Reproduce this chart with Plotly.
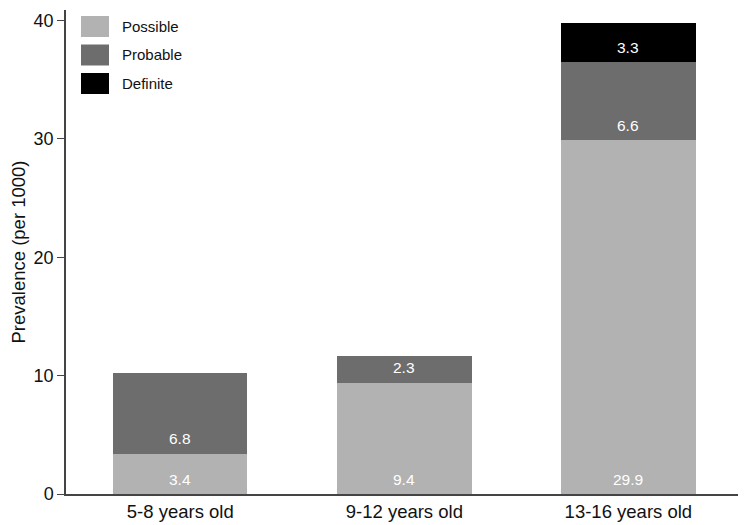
import plotly.graph_objects as go

# Data
age_groups = ["5-8 years old", "9-12 years old", "13-16 years old"]
series_names = ["Possible", "Probable", "Definite"]
possible = [3.4, 9.4, 29.9]
probable = [6.8, 2.3, 6.6]
definite = [0.0, 0.0, 3.3]
series_values = [possible, probable, definite]
series_colors = ["#b2b2b2", "#6d6d6d", "#000000"]
y_ticks = [0, 10, 20, 30, 40]

FONT = "Liberation Sans, Arial, Helvetica, sans-serif"

# page body has an 8px margin, so the figure is drawn 8px smaller
PAGE_PAD = 8

fig = go.Figure()

base = [0.0] * len(age_groups)
for name, vals, color in zip(series_names, series_values, series_colors):
    fig.add_trace(
        go.Bar(
            name=name,
            x=list(range(len(age_groups))),
            y=vals,
            marker=dict(color=color, line_width=0),
            width=0.6,
            showlegend=False,
        )
    )
    # value labels, a fixed distance above the bottom of each segment
    for i, v in enumerate(vals):
        if v > 0:
            fig.add_annotation(
                x=i,
                y=base[i],
                text=f"{v:.1f}",
                showarrow=False,
                yanchor="middle",
                yshift=15,
                font=dict(family=FONT, size=15.5, color="white"),
            )
        base[i] += v

# Hand-drawn legend with large swatches
for k, (name, color) in enumerate(zip(series_names, series_colors)):
    top = 16 + k * 28.5
    fig.add_shape(
        type="rect",
        xref="paper",
        yref="paper",
        x0=(81 - 66) / 680,
        x1=(109 - 66) / 680,
        y0=(494 - top) / 484,
        y1=(494 - top - 21) / 484,
        fillcolor=color,
        line_width=0,
    )
    fig.add_annotation(
        xref="paper",
        yref="paper",
        x=(120 - 66) / 680,
        y=(494 - top - 10.5) / 484,
        text=name,
        showarrow=False,
        xanchor="left",
        yanchor="middle",
        font=dict(family=FONT, size=15, color="#111111"),
    )

fig.update_layout(
    barmode="stack",
    width=746 - PAGE_PAD,
    height=525 - PAGE_PAD,
    margin=dict(l=66 - PAGE_PAD, r=0, t=10 - PAGE_PAD, b=31),
    plot_bgcolor="white",
    paper_bgcolor="white",
    font=dict(family=FONT, size=18, color="#111111"),
    showlegend=False,
)
fig.update_xaxes(
    range=[-0.51, 2.525],
    tickvals=list(range(len(age_groups))),
    ticktext=age_groups,
    showline=True,
    linecolor="#444444",
    linewidth=1.5,
    ticks="",
    showgrid=False,
    zeroline=False,
    automargin=False,
    tickfont=dict(size=18.5),
)
fig.update_yaxes(
    range=[0, 40.9],
    tickvals=y_ticks,
    showline=True,
    linecolor="#444444",
    linewidth=1.5,
    ticks="outside",
    ticklen=7,
    tickcolor="#444444",
    showgrid=False,
    zeroline=False,
    automargin=False,
    title=dict(text="Prevalence (per 1000)", font=dict(size=18.5), standoff=10),
    tickfont=dict(size=18),
)

fig.write_html("out.html")
